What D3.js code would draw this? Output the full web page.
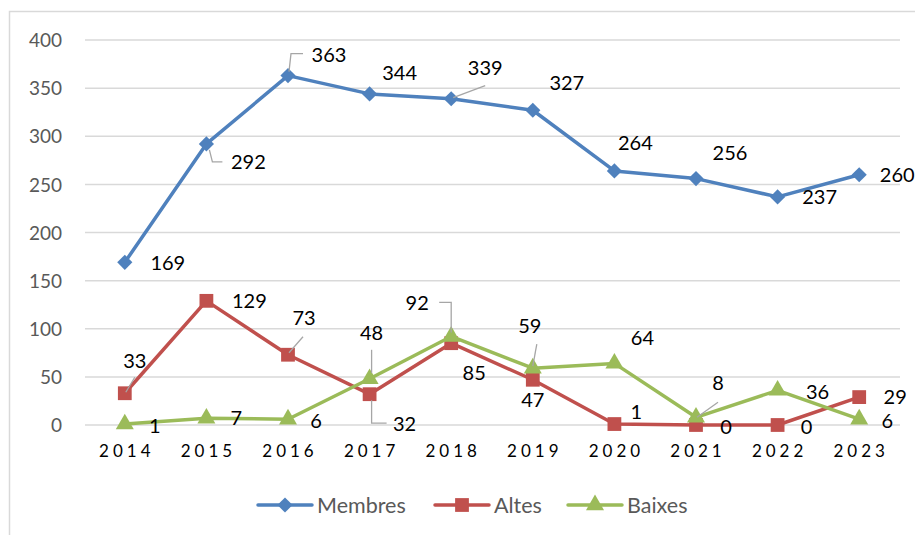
<!DOCTYPE html>
<html><head><meta charset="utf-8">
<script src="https://cdn.jsdelivr.net/npm/d3@7"></script>
<style>
html,body{margin:0;padding:0;background:#fff;}
svg{display:block;font-family:Lato,"Open Sans",sans-serif;}
</style></head>
<body>
<svg id="c" width="915" height="535"></svg>
<script>
const years = ["2014","2015","2016","2017","2018","2019","2020","2021","2022","2023"];
const membres = [169,292,363,344,339,327,264,256,237,260];
const altes   = [33,129,73,32,85,47,1,0,0,29];
const baixes  = [1,7,6,48,92,59,64,8,36,6];
const yTicks  = [0,50,100,150,200,250,300,350,400];
const seriesNames = ["Membres","Altes","Baixes"];

// label offsets (relative to each point) and leader lines
const labelOffsets = {
  Membres: [[43,1],[42,18],[41,-21],[30,-21],[34,-31],[34,-27],[21,-28],[34,-26],[42,0],[38,0]],
  Altes:   [[10,-32],[43,0],[16,-37],[35,30],[23,30],[0,20],[22,-12],[30,2],[29,2],[36,0]],
  Baixes:  [[30,2],[30,0],[28,2],[2,-46],[-34,-33],[-3,-42],[28,-25],[22,-34],[40,2],[28,2]]
};
const leaders = {
  Membres: {1:[[3,6],[6,18],[16,18]], 2:[[1,-4],[3,-22],[15,-22]], 4:[[2,-1],[34,-13]]},
  Altes:   {0:[[1,-1],[10,-16]], 2:[[1,-2],[15,-18]], 3:[[2,6],[2,29],[17,29]]},
  Baixes:  {3:[[2,-6],[2,-29]], 4:[[0,-4],[0,-34],[-12,-34]], 5:[[0,-2],[4,-24]], 7:[[1,0],[22,-15]]}
};

const svg = d3.select("#c");
const colors = {Membres:"#4f81bd", Altes:"#c0504d", Baixes:"#9bbb59"};
const symbols = {Membres:d3.symbolSquare, Altes:d3.symbolSquare, Baixes:d3.symbolTriangle};
const symRot = {Membres:45, Altes:0, Baixes:0};
const symSize = {Membres:115, Altes:190, Baixes:140};
const data = {Membres:membres, Altes:altes, Baixes:baixes};

// outer border
svg.append("rect").attr("x",9.5).attr("y",11.5).attr("width",940).attr("height",560)
  .attr("fill","none").attr("stroke","#d9d9d9").attr("stroke-width",1.5);

const x = d3.scaleBand().domain(years).range([84,900]).padding(0);
const cx = d => x(d) + x.bandwidth()/2;
const y = d3.scaleLinear().domain([0,400]).range([425,40]);

// gridlines
svg.append("g").selectAll("line").data(yTicks).join("line")
  .attr("x1",85).attr("x2",900).attr("y1",d=>y(d)).attr("y2",d=>y(d))
  .attr("stroke","#d9d9d9").attr("stroke-width",1.5);

// y axis labels
const yAxis = d3.axisLeft(y).tickValues(yTicks).tickSize(0).tickPadding(0);
const ya = svg.append("g").attr("transform","translate(62,0)").call(yAxis);
ya.select(".domain").remove();
ya.selectAll("text").attr("fill","#595959").attr("font-size",19).attr("font-family","Lato,sans-serif").attr("dy","0.35em");

// x axis labels
const xAxis = d3.axisBottom(x).tickSize(0).tickPadding(0);
const xa = svg.append("g").attr("transform","translate(0,445)").call(xAxis);
xa.select(".domain").remove();
xa.selectAll("text").attr("fill","#000").attr("font-size",17).attr("font-family","Lato,sans-serif")
  .attr("letter-spacing","4px").attr("dx","2px");

// series
const line = d3.line().x((d,i)=>cx(years[i])).y(d=>y(d));
seriesNames.forEach(name=>{
  const vals = data[name];
  const g = svg.append("g");
  g.append("path").datum(vals).attr("d",line).attr("fill","none")
    .attr("stroke",colors[name]).attr("stroke-width",3.5).attr("stroke-linejoin","round");
  g.selectAll("path.m").data(vals).join("path").attr("class","m")
    .attr("transform",(d,i)=>`translate(${cx(years[i])},${y(d)}) rotate(${symRot[name]})`)
    .attr("d",d3.symbol().type(symbols[name]).size(symSize[name]))
    .attr("fill",colors[name]);
});

// labels + leaders (on top)
seriesNames.forEach(name=>{
  const vals = data[name];
  const g = svg.append("g");
  vals.forEach((v,i)=>{
    const px = cx(years[i]), py = y(v);
    const ld = leaders[name][i];
    if(ld){
      g.append("path").attr("d", d3.line()(ld.map(p=>[px+p[0],py+p[1]])))
        .attr("fill","none").attr("stroke","#a6a6a6").attr("stroke-width",1.3);
    }
  });
  g.selectAll("text").data(vals).join("text")
    .attr("x",(d,i)=>cx(years[i])+labelOffsets[name][i][0])
    .attr("y",(d,i)=>y(d)+labelOffsets[name][i][1])
    .attr("dy","0.35em").attr("text-anchor","middle")
    .attr("font-size",20).attr("fill","#000").text(d=>d);
});

// legend
const legendX = [258, 435, 568];
const lg = svg.append("g").attr("transform","translate(0,505)");
seriesNames.forEach((name,k)=>{
  const g = lg.append("g").attr("transform",`translate(${legendX[k]},0)`);
  g.append("line").attr("x1",0).attr("x2",54).attr("y1",0).attr("y2",0)
    .attr("stroke",colors[name]).attr("stroke-width",3.5).attr("stroke-linecap","round");
  g.append("path").attr("transform",`translate(27,0) rotate(${symRot[name]})`)
    .attr("d",d3.symbol().type(symbols[name]).size(symSize[name])).attr("fill",colors[name]);
  g.append("text").attr("x",59).attr("y",0).attr("dy","0.35em")
    .attr("font-size",21.5).attr("fill","#595959").text(name);
});
</script>
</body></html>
